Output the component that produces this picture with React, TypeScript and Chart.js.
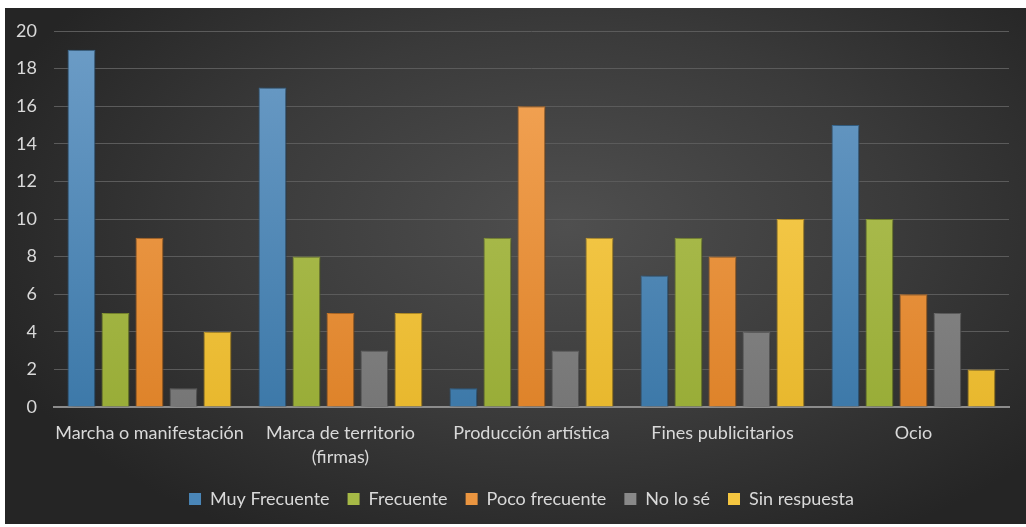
import React, { useEffect, useRef } from "react";
import { Chart, registerables } from "chart.js";

Chart.register(...registerables);

const categories: (string | string[])[] = [
  "Marcha o manifestación",
  ["Marca de territorio", "(firmas)"],
  "Producción artística",
  "Fines publicitarios",
  "Ocio",
];
const seriesNames = ["Muy Frecuente", "Frecuente", "Poco frecuente", "No lo sé", "Sin respuesta"];
const muyFrecuente = [19, 17, 1, 7, 15];
const frecuente = [5, 8, 9, 9, 10];
const pocoFrecuente = [9, 5, 16, 8, 6];
const noLoSe = [1, 3, 3, 4, 5];
const sinRespuesta = [4, 5, 9, 10, 2];
const yTicks = [0, 2, 4, 6, 8, 10, 12, 14, 16, 18, 20];

const colorsTop = ["#6d9dc7", "#b6c55c", "#f5a75a", "#9c9c9c", "#fdd45c"];
const colorsBottom = ["#3d79a9", "#99ad38", "#de832a", "#767676", "#e8b82e"];
const borders = ["#3b6e98", "#8a9c35", "#c9782a", "#6c6c6c", "#d1a52c"];
const legendColors = ["#4a86b8", "#a6b946", "#ea9540", "#898989", "#f5c640"];

export default function App() {
  const ref = useRef<HTMLCanvasElement>(null);
  useEffect(() => {
    document.body.style.margin = "0";
    const values = [muyFrecuente, frecuente, pocoFrecuente, noLoSe, sinRespuesta];
    const shadowPlugin = {
      id: "barShadow",
      afterLayout(chart: any) {
        const lg = chart.legend;
        if (lg) {
          lg.left -= 10;
          lg.right -= 10;
        }
      },
      beforeDatasetsDraw(chart: any) {
        const c = chart.ctx;
        c.save();
        c.shadowColor = "rgba(0,0,0,0.55)";
        c.shadowBlur = 6;
        c.shadowOffsetX = 2;
        c.shadowOffsetY = 1;
      },
      afterDatasetsDraw(chart: any) {
        chart.ctx.restore();
      },
    };
    const chart = new Chart(ref.current!, {
      type: "bar",
      data: {
        labels: categories as any,
        datasets: seriesNames.map((name, i) => ({
          label: name,
          data: values[i],
          backgroundColor: (ctx: any) => {
            const area = ctx.chart.chartArea;
            if (!area) return colorsBottom[i];
            const g = ctx.chart.ctx.createLinearGradient(0, area.top, 0, area.bottom);
            g.addColorStop(0, colorsTop[i]);
            g.addColorStop(1, colorsBottom[i]);
            return g;
          },
          borderColor: borders[i],
          borderWidth: 1,
          barPercentage: 0.82,
          categoryPercentage: 0.89,
        })),
      },
      plugins: [shadowPlugin],
      options: {
        animation: false,
        responsive: true,
        maintainAspectRatio: false,
        layout: { padding: { top: 23, right: 17, left: 0, bottom: 6 } },
        scales: {
          x: {
            grid: { display: false, drawTicks: false },
            border: { display: true, color: "#8c8c8c", width: 2 },
            ticks: {
              color: "#d9d9d9",
              font: { family: "Lato", size: 18, lineHeight: 1.35 },
              padding: 14,
              maxRotation: 0,
              autoSkip: false,
            },
            afterFit(scale: any) {
              scale.height = 65;
            },
          },
          y: {
            min: 0,
            max: 20,
            afterBuildTicks(scale: any) {
              scale.ticks = yTicks.map((v) => ({ value: v }));
            },
            grid: { color: "#5b5b5b", lineWidth: 1, drawTicks: false },
            border: { display: false },
            ticks: {
              color: "#d9d9d9",
              font: { family: "Lato", size: 18 },
              padding: 17,
            },
            afterFit(scale: any) {
              scale.width = 49;
              scale.paddingTop = 0;
              scale.paddingBottom = 0;
            },
          },
        },
        plugins: {
          legend: {
            position: "bottom",
            fullSize: false,
            labels: {
              color: "#d9d9d9",
              font: { family: "Lato", size: 18 },
              boxWidth: 12,
              boxHeight: 12,
              padding: 18,
              generateLabels: () =>
                seriesNames.map((n, i) => ({
                  text: n,
                  fillStyle: legendColors[i],
                  strokeStyle: legendColors[i],
                  lineWidth: 0,
                  hidden: false,
                  datasetIndex: i,
                  fontColor: "#d9d9d9",
                })),
            },
          },
          tooltip: { enabled: false },
        },
      },
    });
    return () => chart.destroy();
  }, []);
  return (
    <div
      style={{
        position: "absolute",
        left: 5,
        top: 8,
        width: 1021,
        height: 516,
        background: "radial-gradient(ellipse 60% 70% at 55% 42%, #4f4f4f 0%, #3a3a3a 55%, #252525 100%)",
      }}
    >
      <canvas ref={ref} />
    </div>
  );
}
